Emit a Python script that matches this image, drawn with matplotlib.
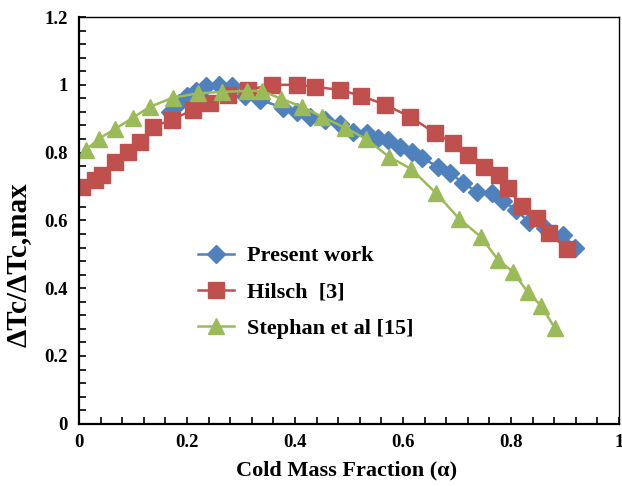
import matplotlib.pyplot as plt
from matplotlib.ticker import MultipleLocator, FuncFormatter

# Present work (blue diamonds)
present_x = [0.169, 0.185, 0.200, 0.217, 0.235, 0.259, 0.283, 0.307, 0.335, 0.378,
             0.404, 0.428, 0.456, 0.483, 0.507, 0.533, 0.554, 0.572, 0.594, 0.617,
             0.635, 0.665, 0.687, 0.711, 0.737, 0.765, 0.785, 0.809, 0.833, 0.863,
             0.896, 0.919]
present_y = [0.920, 0.947, 0.968, 0.982, 0.997, 1.000, 0.997, 0.968, 0.956, 0.932,
             0.920, 0.906, 0.897, 0.885, 0.861, 0.858, 0.844, 0.838, 0.817, 0.802,
             0.785, 0.758, 0.740, 0.711, 0.684, 0.681, 0.658, 0.631, 0.596, 0.578,
             0.558, 0.519]

# Hilsch [3] (red squares)
hilsch_x = [0.006, 0.030, 0.043, 0.067, 0.091, 0.113, 0.137, 0.172, 0.211, 0.243,
            0.276, 0.313, 0.357, 0.404, 0.437, 0.483, 0.522, 0.567, 0.613, 0.659,
            0.693, 0.720, 0.750, 0.778, 0.794, 0.820, 0.848, 0.870, 0.904]
hilsch_y = [0.699, 0.720, 0.735, 0.773, 0.802, 0.832, 0.876, 0.897, 0.926, 0.947,
            0.971, 0.985, 1.000, 1.000, 0.994, 0.985, 0.968, 0.941, 0.906, 0.858,
            0.829, 0.794, 0.758, 0.735, 0.696, 0.643, 0.608, 0.563, 0.516]

# Stephan et al [15] (green triangles)
stephan_x = [0.013, 0.037, 0.067, 0.100, 0.131, 0.174, 0.220, 0.265, 0.311, 0.339,
             0.374, 0.413, 0.450, 0.493, 0.531, 0.574, 0.615, 0.661, 0.704, 0.744,
             0.776, 0.804, 0.831, 0.856, 0.881]
stephan_y = [0.808, 0.841, 0.870, 0.903, 0.935, 0.962, 0.975, 0.979, 0.982, 0.982,
             0.959, 0.935, 0.906, 0.873, 0.841, 0.788, 0.752, 0.681, 0.605, 0.552,
             0.484, 0.448, 0.389, 0.348, 0.283]

plt.rcParams['font.family'] = ['Liberation Serif', 'DejaVu Serif']
plt.rcParams['font.weight'] = 'bold'

fig = plt.figure(figsize=(6.22, 4.86), dpi=100)
ax = fig.add_axes([0.127, 0.128, 0.868, 0.837])

ax.plot(present_x, present_y, color='#4F81BD', lw=1.8, marker='D', ms=9.5,
        label='Present work')
ax.plot(hilsch_x, hilsch_y, color='#C0504D', lw=1.8, marker='s', ms=11,
        label='Hilsch  [3]')
ax.plot(stephan_x, stephan_y, color='#9BBB59', lw=1.8, marker='^', ms=11,
        label='Stephan et al [15]')

ax.set_xlim(0, 1)
ax.set_ylim(0, 1.2)
ax.xaxis.set_major_locator(MultipleLocator(0.2))
ax.xaxis.set_minor_locator(MultipleLocator(0.04))
ax.yaxis.set_major_locator(MultipleLocator(0.2))
ax.yaxis.set_minor_locator(MultipleLocator(0.04))
fmt = FuncFormatter(lambda v, p: '%g' % round(v, 2))
ax.xaxis.set_major_formatter(fmt)
ax.yaxis.set_major_formatter(fmt)
ax.tick_params(which='both', direction='in', length=5, width=1.2,
               labelsize=13.5, top=False, right=False)
ax.tick_params(axis='x', pad=7)
ax.tick_params(axis='y', pad=8)

for s in ['left', 'bottom']:
    ax.spines[s].set_linewidth(1.6)
for s in ['top', 'right']:
    ax.spines[s].set_linewidth(1.0)

ax.set_xlabel('Cold Mass Fraction (α)', fontsize=16, fontweight='bold')
ax.xaxis.set_label_coords(0.495, -0.09)
ax.set_ylabel('ΔTc/ΔTc,max', fontsize=21, fontweight='bold')
ax.yaxis.set_label_coords(-0.088, 0.39)

leg = ax.legend(loc='upper left', bbox_to_anchor=(0.2, 0.465), frameon=False,
                borderpad=0, handlelength=1.6, handletextpad=0.6,
                labelspacing=0.7, prop={'weight': 'bold', 'size': 16})

plt.savefig('out.png', dpi=100)
